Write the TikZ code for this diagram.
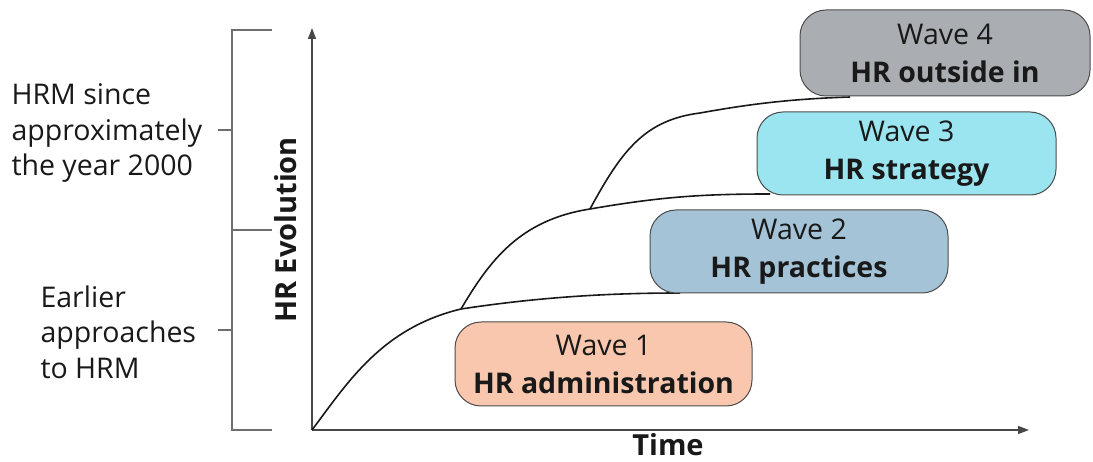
\documentclass[tikz,border=0pt]{standalone}
\usepackage{fontspec}
\setmainfont{Open Sans}
\usetikzlibrary{arrows.meta}
\definecolor{wone}{RGB}{248,199,174}
\definecolor{wtwo}{RGB}{164,195,214}
\definecolor{wthree}{RGB}{154,229,240}
\definecolor{wfour}{RGB}{170,174,179}
\definecolor{ink}{RGB}{25,25,25}
\definecolor{brk}{RGB}{110,110,110}
\begin{document}
\begin{tikzpicture}[x=1pt,y=-1pt,
  wave/.style={draw=black!70, line width=1pt, rounded corners=26pt, minimum height=84pt,
    align=center, font=\fontsize{28.5}{38}\selectfont, inner sep=0pt, text=ink},
  curve/.style={draw=ink, line width=1.6pt},
  axis/.style={draw=ink!80, line width=1.3pt, -{Triangle[length=11pt,width=8pt]}},
  bracket/.style={draw=brk, line width=1.2pt},
  side/.style={align=left, anchor=west, font=\fontsize{28.5}{35.5}\selectfont, text=ink},
  axlabel/.style={font=\fontsize{29}{32}\selectfont\bfseries, text=ink, inner sep=1pt}]
\useasboundingbox (0,0) rectangle (1093,462);
% bracket
\coordinate (bt) at (232,30);
\coordinate (bb) at (232,430);
\coordinate (btR) at (272,30);
\coordinate (bbR) at (272,430);
\coordinate (bm) at (232,230);
\coordinate (bmR) at (272,230);
\coordinate (bu) at (232,130);
\coordinate (buL) at (218,130);
\coordinate (bl) at (232,330);
\coordinate (blL) at (218,330);
\draw[bracket] (btR) -- (bt) -- (bb) -- (bbR);
\draw[bracket] (bm) -- (bmR);
\draw[bracket] (buL) -- (bu);
\draw[bracket] (blL) -- (bl);
% side texts
\node[side] (hrm) at (8,133) {HRM since\\approximately\\the year 2000};
\node[side] (earlier) at (37,332) {Earlier\\approaches\\to HRM};
% axes
\coordinate (O) at (312,430);
\coordinate (Ytop) at (312,28);
\coordinate (Xend) at (1029,430);
\draw[axis] (O) -- (Ytop);
\draw[axis] (O) -- (Xend);
\node[axlabel, rotate=90] (ylab) at (286,230) {HR Evolution};
\node[axlabel] (xlab) at (668,445) {Time};
% curves
\coordinate (J1) at (461,309);
\coordinate (J2) at (590,209);
\coordinate (E1) at (680,293);
\coordinate (E2) at (770,194);
\coordinate (E3) at (850,97);
\draw[curve] (O) .. controls (348,382) and (382,328) .. (J1)
  .. controls (540,297) and (610,293) .. (E1);
\draw[curve] (J1) .. controls (490,260) and (520,220) .. (J2)
  .. controls (660,197) and (700,194) .. (E2);
\draw[curve] (J2) .. controls (622,150) and (645,120) .. (700,113)
  .. controls (750,104) and (790,99) .. (E3);
% waves
\node[wave, fill=wone, minimum width=297pt] (w1) at (603.5,364) {Wave 1\\\textbf{HR administration}};
\node[wave, fill=wtwo, minimum width=298pt, minimum height=83pt] (w2) at (799,251.5) {Wave 2\\\textbf{HR practices}};
\node[wave, fill=wthree, minimum width=299pt, minimum height=83pt] (w3) at (906.5,153.5) {Wave 3\\\textbf{HR strategy}};
\node[wave, fill=wfour, minimum width=290pt, minimum height=86pt] (w4) at (945,53) {Wave 4\\\textbf{HR outside in}};
\end{tikzpicture}
\end{document}
